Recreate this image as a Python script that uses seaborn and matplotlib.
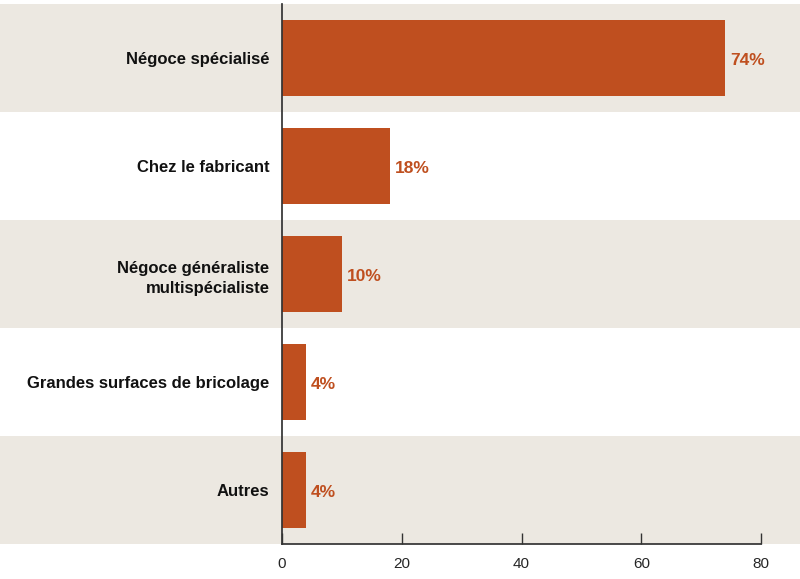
import matplotlib
matplotlib.use("Agg")
import matplotlib.pyplot as plt
import seaborn as sns
import pandas as pd

categories = ["Négoce spécialisé", "Chez le fabricant",
              "Négoce généraliste\nmultispécialiste",
              "Grandes surfaces de bricolage", "Autres"]
values = [74, 18, 10, 4, 4]
tick_values = [0, 20, 40, 60, 80]

BAR = "#BF4F1F"
BAND = "#ECE8E1"

sns.set_theme(style="white")
plt.rcParams['font.family'] = ['Liberation Sans', 'DejaVu Sans']

df = pd.DataFrame({"cat": categories, "val": values})

fig = plt.figure(figsize=(8, 5.79), dpi=100)
W, H = 800, 579
ax = fig.add_axes([282 / W, 1 - 544 / H, 479 / W, 540 / H])

sns.barplot(data=df, x="val", y="cat", orient="h", color=BAR,
            saturation=1, width=0.7, linewidth=0, ax=ax, zorder=3)

ax.set_xlim(0, 80)
ax.set_ylim(4.5, -0.5)

for i in range(len(categories)):
    if i % 2 == 0:
        ax.axhspan(i - 0.5, i + 0.5, xmin=-282 / 479, xmax=1 + 39 / 479,
                   color=BAND, clip_on=False, zorder=0, lw=0)

for i, v in enumerate(values):
    ax.text(v + 0.8, i + 0.02, f"{v}%", va="center", ha="left", color=BAR,
            fontsize=12.5, fontweight="bold", zorder=4)

ax.set_xticks(tick_values)
ax.set_xticklabels([str(t) for t in tick_values], fontsize=11)
ax.tick_params(axis="x", direction="in", length=8, width=1, color="#333333",
               pad=9, bottom=True)
ax.tick_params(axis="y", length=0, pad=9)
for lab in ax.get_yticklabels():
    lab.set_fontsize(12)
    lab.set_fontweight("bold")
    lab.set_color("#111111")
    lab.set_multialignment("right")
    lab.set_linespacing(1.5)
ax.set_xlabel("")
ax.set_ylabel("")
for s in ["top", "right"]:
    ax.spines[s].set_visible(False)
ax.spines["left"].set_color("#333333")
ax.spines["bottom"].set_color("#333333")
ax.spines["left"].set_zorder(5)
ax.patch.set_alpha(0)

fig.savefig("out.png", dpi=100, facecolor="white")
